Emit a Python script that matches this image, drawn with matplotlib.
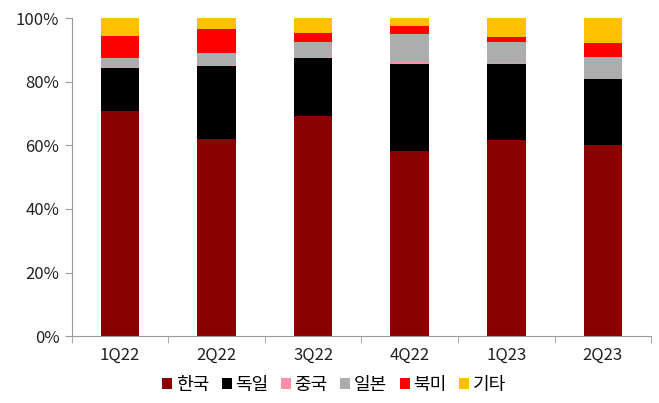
import matplotlib.pyplot as plt
import numpy as np

plt.rcParams['font.family'] = ['Noto Sans CJK KR', 'DejaVu Sans']

quarters = ['1Q22', '2Q22', '3Q22', '4Q22', '1Q23', '2Q23']
korea = [70.7, 62.1, 69.3, 58.2, 61.8, 60.1]
germany = [13.6, 23.0, 18.2, 27.3, 23.8, 20.8]
china = [0.3, 0.3, 0.4, 0.6, 0.3, 0.1]
japan = [3.0, 3.7, 4.5, 8.9, 6.6, 6.8]
north_america = [6.8, 7.4, 2.9, 2.6, 1.5, 4.5]
others = [5.6, 3.5, 4.7, 2.4, 6.0, 7.7]

series = [('한국', korea, '#8B0000'),
          ('독일', germany, '#000000'),
          ('중국', china, '#FF8FA8'),
          ('일본', japan, '#ADADAD'),
          ('북미', north_america, '#FF0000'),
          ('기타', others, '#FFC000')]

fig = plt.figure(figsize=(6.59, 4.03), dpi=100)
ax = fig.add_axes([0.109, 0.166, 0.879, 0.789])

x = np.arange(len(quarters))
bottom = np.zeros(len(quarters))
for name, vals, color in series:
    ax.bar(x, vals, 0.4, bottom=bottom, color=color, label=name)
    bottom += np.array(vals)

ax.set_xlim(-0.5, len(quarters) - 0.5)
ax.set_ylim(0, 100)
ax.set_yticks(range(0, 101, 20))
ax.set_yticklabels([f'{v}%' for v in range(0, 101, 20)])
ax.set_xticks(x)
ax.set_xticklabels(quarters)
ax.set_xticks(np.arange(-0.5, len(quarters), 1), minor=True)
ax.tick_params(axis='x', which='major', length=0, pad=8, labelsize=12, colors='#222222')
ax.tick_params(axis='x', which='minor', length=5, color='#999999', direction='out')
ax.tick_params(axis='y', length=5, color='#999999', labelsize=12, colors='#222222', pad=4)

for side in ['top', 'right']:
    ax.spines[side].set_visible(False)
for side in ['left', 'bottom']:
    ax.spines[side].set_color('#999999')

fig.legend(loc='center', bbox_to_anchor=(0.507, 0.045), ncol=6, frameon=False,
           fontsize=13, handlelength=0.55, handleheight=0.55, handletextpad=0.2,
           columnspacing=0.7, borderaxespad=0)

fig.savefig('out.png', dpi=100)
